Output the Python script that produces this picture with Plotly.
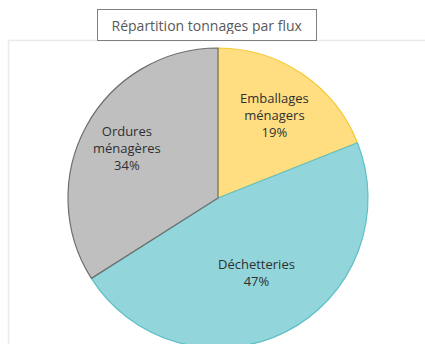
import math
import plotly.graph_objects as go

# Tonnage share by waste stream
categories = ["Emballages<br>ménagers", "Déchetteries", "Ordures<br>ménagères"]
shares = [19, 47, 34]
fill_colors = ["#FFDE82", "#92D5DA", "#BFBFBF"]
edge_colors = ["#F5C730", "#5FC0C7", "#6E6E6E"]
label_radius = [0.67, 0.56, 0.69]  # label distance from centre, as a fraction of the radius

W, H = 425, 360
cx, cy, r = 218, 198, 150  # pie centre and radius in pixels

fig = go.Figure(go.Pie(
    labels=categories,
    values=shares,
    sort=False,
    direction="clockwise",
    rotation=0,
    marker=dict(colors=fill_colors, line=dict(color=edge_colors, width=1.2)),
    textinfo="none",
    hoverinfo="label+percent",
    domain=dict(x=[(cx - r) / W, (cx + r) / W],
                y=[(H - cy - r) / H, (H - cy + r) / H]),
    showlegend=False,
))

# slice labels placed along each slice's bisector
annotations = []
total = sum(shares)
cum = 0
for name, val, frac in zip(categories, shares, label_radius):
    mid = (cum + val / 2) / total * 2 * math.pi  # clockwise from 12 o'clock
    cum += val
    px = cx + frac * r * math.sin(mid)
    py = cy - frac * r * math.cos(mid)
    pct = round(100 * val / total)
    annotations.append(dict(
        text=f"{name}<br>{pct}%",
        xref="paper", yref="paper",
        x=px / W, y=1 - py / H, xanchor="center", yanchor="middle",
        showarrow=False, align="center",
        font=dict(family="Open Sans", size=13, color="#303030"),
    ))

annotations.append(dict(
    text="Répartition tonnages par flux",
    xref="paper", yref="paper",
    x=207 / W, y=1 - 25 / H, xanchor="center", yanchor="middle",
    showarrow=False,
    font=dict(family="Open Sans", size=14, color="#595959"),
    bgcolor="white", bordercolor="#7F7F7F", borderwidth=1,
    borderpad=6, width=206, height=18,
))

fig.update_layout(
    width=W, height=H,
    margin=dict(l=0, r=0, t=0, b=0),
    paper_bgcolor="white",
    shapes=[
        # light frame around the chart area
        dict(type="line", xref="paper", yref="paper",
             x0=8 / W, x1=1, y0=1 - 40.5 / H, y1=1 - 40.5 / H,
             line=dict(color="#EBEBEB", width=1.5)),
        dict(type="line", xref="paper", yref="paper",
             x0=8.5 / W, x1=8.5 / W, y0=0, y1=1 - 40.5 / H,
             line=dict(color="#EBEBEB", width=1.5)),
    ],
    annotations=annotations,
)

fig.write_html("out.html")
